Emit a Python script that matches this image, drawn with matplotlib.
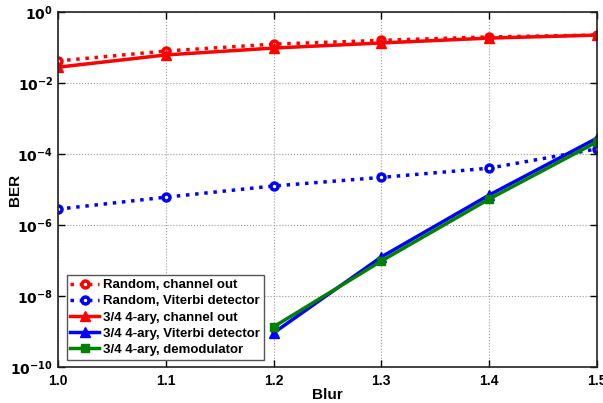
import numpy as np
import matplotlib
matplotlib.use("Agg")
import matplotlib.pyplot as plt
from matplotlib.ticker import FixedLocator, NullLocator

blur = [1.0, 1.1, 1.2, 1.3, 1.4, 1.5]
rand_chan = [0.042, 0.08, 0.125, 0.16, 0.2, 0.225]
rand_vit = [2.8e-6, 6.1e-6, 1.26e-5, 2.2e-5, 4.0e-5, 1.4e-4]
ary_chan = [0.028, 0.062, 0.097, 0.135, 0.185, 0.225]
blur_hi = [1.2, 1.3, 1.4, 1.5]
ary_vit = [9.1e-10, 1.26e-7, 7.0e-6, 2.8e-4]
ary_demod = [1.35e-9, 9.7e-8, 5.4e-6, 2.2e-4]

plt.rcParams['font.family'] = ['Liberation Sans', 'DejaVu Sans']
plt.rcParams['font.weight'] = 'bold'

fig = plt.figure(figsize=(6.03, 4.03), dpi=100)
ax = fig.add_axes([0.096, 0.0893, 0.894, 0.8807])

ax.semilogy(blur, rand_chan, ':', color='red', lw=2.5, marker='o', ms=5,
            mfc='white', mew=2.5, label='Random, channel out')
ax.semilogy(blur, rand_vit, ':', color='blue', lw=2.5, marker='o', ms=5,
            mfc='white', mew=2.5, label='Random, Viterbi detector')
ax.semilogy(blur, ary_chan, '-', color='red', lw=2.5, marker='^', ms=7,
            label='3/4 4-ary, channel out')
ax.semilogy(blur_hi, ary_vit, '-', color='blue', lw=2.5, marker='^', ms=7,
            label='3/4 4-ary, Viterbi detector')
ax.semilogy(blur_hi, ary_demod, '-', color='green', lw=2.5, marker='s', ms=6,
            label='3/4 4-ary, demodulator')

ax.set_xlim(1.0, 1.5)
ax.set_ylim(1e-10, 1)
ax.set_xticks(blur)
ax.set_xticklabels(['1.0', '1.1', '1.2', '1.3', '1.4', '1.5'])
ax.yaxis.set_major_locator(FixedLocator([1e-10, 1e-8, 1e-6, 1e-4, 1e-2, 1]))
ax.yaxis.set_minor_locator(NullLocator())
ax.set_yticklabels(['$\\mathbf{10^{-10}}$', '$\\mathbf{10^{-8}}$', '$\\mathbf{10^{-6}}$',
                    '$\\mathbf{10^{-4}}$', '$\\mathbf{10^{-2}}$', '$\\mathbf{10^{0}}$'])
ax.tick_params(direction='in', top=True, right=True, labelsize=10, width=1, length=5)
ax.tick_params(axis='x', pad=5)
ax.grid(True, which='major', linestyle=':', color='#999999', lw=0.8)
for s in ax.spines.values():
    s.set_linewidth(1.2)
    s.set_color('#222222')

ax.set_xlabel('Blur', fontsize=11, fontweight='bold')
ax.set_ylabel('BER', fontsize=11, fontweight='bold')
ax.xaxis.set_label_coords(0.5, -0.059)
ax.yaxis.set_label_coords(-0.067, 0.5)

leg = ax.legend(loc='lower left', bbox_to_anchor=(0.016, 0.02), fontsize=9.5,
                handlelength=2.2, borderpad=0.3, labelspacing=0.3,
                handletextpad=0.3, borderaxespad=0, fancybox=False,
                framealpha=1, edgecolor='#555555')
leg.get_frame().set_linewidth(1)

fig.savefig('out.png', dpi=100)
